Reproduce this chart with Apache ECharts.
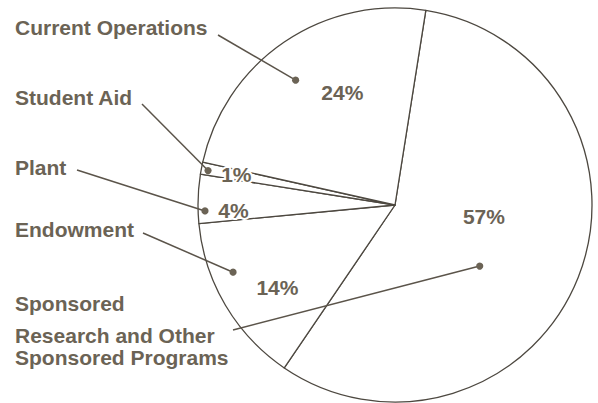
<!DOCTYPE html>
<html>
<head>
<meta charset="utf-8">
<script src="https://cdn.jsdelivr.net/npm/echarts@6/dist/echarts.min.js"></script>
<style>
  html, body { margin: 0; padding: 0; background: #ffffff; }
  #chart { width: 598px; height: 403px; }
</style>
</head>
<body>
<div id="chart"></div>
<script>
// Sources of funds, percent of total, listed clockwise from the top divider
const categories = [
  'Sponsored Research and Other Sponsored Programs',
  'Endowment',
  'Plant',
  'Student Aid',
  'Current Operations'
];
const shares = [57, 14, 4, 1, 24];
const captionLines = [
  ['Sponsored', 'Research and Other', 'Sponsored Programs'],
  ['Endowment'],
  ['Plant'],
  ['Student Aid'],
  ['Current Operations']
];

const INK = '#6b6355';
const RULE = '#4d4840';
const FONT = 'bold 21px "Liberation Sans", Arial, sans-serif';

// Caption placement on the left, the start of each leader line,
// and where inside its slice the dot / percentage sit
// (t = fraction across the slice, f = fraction of the radius).
const callouts = [
  { ys: [303.5, 335.5, 357.5], from: [233, 330], dot: { t: 0.569, f: 0.53 }, pct: { t: 0.43, f: 0.455 } },
  { ys: [229],                 from: [143, 233], dot: { t: 0.66,  f: 0.89 }, pct: { t: 0.41, f: 0.73 } },
  { ys: [167.5],               from: [77, 170],  dot: { t: 0.25,  f: 0.965 }, pct: { t: 0.25, f: 0.82 } },
  { ys: [97],                  from: [142, 104], dot: { t: 0.4,   f: 0.965 }, pct: { t: 0.5,  f: 0.82 } },
  { ys: [27.5],                from: [218, 35],  dot: { t: 0.45,  f: 0.81 }, pct: { t: 0.605, f: 0.63 } }
];

const chart = echarts.init(document.getElementById('chart'), null, { renderer: 'svg' });

chart.setOption({
  backgroundColor: '#ffffff',
  animation: false,
  series: [{
    type: 'pie',
    z: 1,
    center: [395, 205],
    radius: 197,
    startAngle: 81,
    clockwise: true,
    silent: true,
    label: { show: false },
    labelLine: { show: false },
    emphasis: { disabled: true },
    itemStyle: { color: '#ffffff', borderColor: RULE, borderWidth: 1.3 },
    data: categories.map((name, i) => ({ name, value: shares[i] }))
  }]
});

// Slice geometry as laid out by the pie series
const sliceData = chart.getModel().getSeriesByIndex(0).getData();
function pointIn(i, t, f) {
  const L = sliceData.getItemLayout(i);
  const a = L.startAngle + (L.endAngle - L.startAngle) * t;
  return [L.cx + f * L.r * Math.cos(a), L.cy + f * L.r * Math.sin(a)];
}

const graphics = [];
callouts.forEach((c, i) => {
  captionLines[i].forEach((line, k) => {
    graphics.push({
      type: 'text', x: 15, y: c.ys[k], z: 100, silent: true,
      style: { text: line, font: FONT, fill: INK, align: 'left', verticalAlign: 'middle' }
    });
  });
  const d = pointIn(i, c.dot.t, c.dot.f);
  graphics.push({
    type: 'line', z: 100, silent: true,
    shape: { x1: c.from[0], y1: c.from[1], x2: d[0], y2: d[1] },
    style: { stroke: '#5b544a', lineWidth: 1.5 }
  });
  graphics.push({
    type: 'circle', z: 100, silent: true,
    shape: { cx: d[0], cy: d[1], r: 3.6 },
    style: { fill: INK }
  });
  const p = pointIn(i, c.pct.t, c.pct.f);
  graphics.push({
    type: 'text', x: p[0], y: p[1], z: 101, silent: true,
    style: {
      text: shares[i] + '%', font: FONT, fill: INK, align: 'center', verticalAlign: 'middle',
      stroke: '#ffffff', lineWidth: 4, strokeFirst: true
    }
  });
});

chart.setOption({ graphic: { elements: graphics } });
</script>
</body>
</html>
